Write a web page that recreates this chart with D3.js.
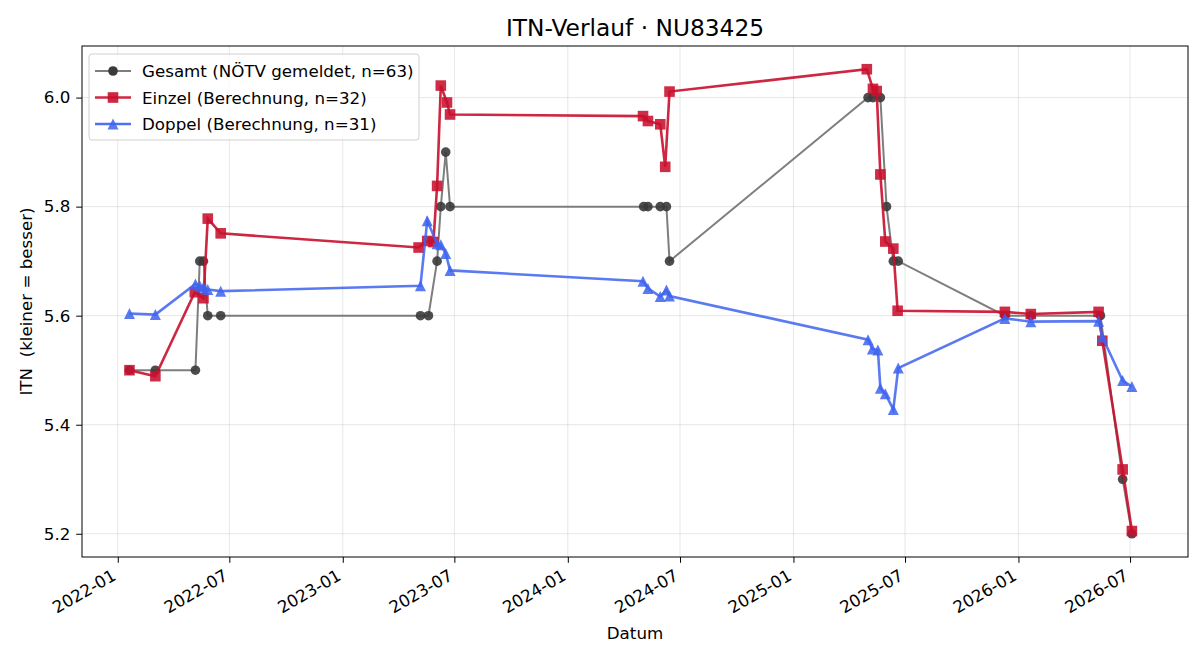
<!DOCTYPE html>
<html><head><meta charset="utf-8">
<script src="https://cdn.jsdelivr.net/npm/d3@7"></script>
<style>
html,body{margin:0;padding:0;background:#fff;}
svg{display:block;font-family:"DejaVu Sans",sans-serif;}
</style></head>
<body>
<svg id="chart" width="1200" height="660"></svg>
<script>
// ---------- data ----------
const gesamtDates = ["2022-01-20","2022-03-03","2022-05-07","2022-05-14","2022-05-20","2022-05-27","2022-06-17",
  "2023-05-07","2023-05-20","2023-06-03","2023-06-09","2023-06-17","2023-06-24",
  "2024-05-03","2024-05-10","2024-05-30","2024-06-09","2024-06-14",
  "2025-05-02","2025-05-10","2025-05-22","2025-06-01","2025-06-12","2025-06-20",
  "2025-12-10","2026-01-21","2026-05-14","2026-06-19","2026-07-04"];
const gesamtValues = [5.5,5.5,5.5,5.7,5.7,5.6,5.6,
  5.6,5.6,5.7,5.8,5.9,5.8,
  5.8,5.8,5.8,5.8,5.7,
  6.0,6.0,6.0,5.8,5.7,5.7,
  5.6,5.6,5.6,5.3,5.2];

const einzelDates = ["2022-01-20","2022-03-03","2022-05-06","2022-05-20","2022-05-27","2022-06-17",
  "2023-05-04","2023-05-18","2023-05-28","2023-06-03","2023-06-09","2023-06-19","2023-06-24",
  "2024-05-02","2024-05-10","2024-05-30","2024-06-07","2024-06-14",
  "2025-04-30","2025-05-10","2025-05-16","2025-05-22","2025-05-30","2025-06-12","2025-06-19",
  "2025-12-10","2026-01-21","2026-05-11","2026-05-17","2026-06-19","2026-07-04"];
const einzelValues = [5.5,5.489,5.643,5.632,5.778,5.751,
  5.725,5.737,5.735,5.838,6.022,5.991,5.969,
  5.966,5.957,5.951,5.873,6.011,
  6.052,6.016,6.012,5.859,5.736,5.723,5.609,
  5.607,5.603,5.607,5.554,5.318,5.205];

const doppelDates = ["2022-01-20","2022-03-03","2022-05-07","2022-05-14","2022-05-20","2022-05-27","2022-06-17",
  "2023-05-07","2023-05-18","2023-06-03","2023-06-09","2023-06-17","2023-06-24",
  "2024-05-02","2024-05-10","2024-05-30","2024-06-09","2024-06-14",
  "2025-05-02","2025-05-09","2025-05-18","2025-05-22","2025-05-30","2025-06-12","2025-06-20",
  "2025-12-10","2026-01-21","2026-05-11","2026-05-17","2026-06-19","2026-07-04"];
const doppelValues = [5.604,5.602,5.658,5.655,5.652,5.648,5.645,
  5.655,5.774,5.732,5.730,5.714,5.683,
  5.663,5.650,5.635,5.647,5.636,
  5.556,5.539,5.537,5.467,5.457,5.428,5.504,
  5.595,5.589,5.590,5.561,5.481,5.470];

const xTickLabels = ["2022-01","2022-07","2023-01","2023-07","2024-01","2024-07","2025-01","2025-07","2026-01","2026-07"];
const yTickValues = [5.2,5.4,5.6,5.8,6.0];

const titleText = "ITN-Verlauf · NU83425";
const xLabel = "Datum";
const yLabel = "ITN  (kleiner = besser)";
const legendLabels = ["Gesamt (NÖTV gemeldet, n=63)","Einzel (Berechnung, n=32)","Doppel (Berechnung, n=31)"];

// ---------- layout ----------
const svg = d3.select("#chart");
const L = 82, T = 46, R = 1188, B = 557;
const W = R - L, H = B - T;
const parse = d3.utcParse("%Y-%m-%d");
const parseM = d3.utcParse("%Y-%m");
const base = Date.UTC(2022,0,1);
const day = 86400000;

const x = d3.scaleUtc()
  .domain([new Date(base - 58*day), new Date(base + 1736*day)])
  .range([0, W]);
const allVals = gesamtValues.concat(einzelValues, doppelValues);
const yMin = d3.min(allVals), yMax = d3.max(allVals);
const pad = (yMax - yMin) * 0.05;
const y = d3.scaleLinear().domain([yMin - pad, yMax + pad]).range([H, 0]);

const g = svg.append("g").attr("transform", `translate(${L},${T})`);

// grid
const xTicks = xTickLabels.map(parseM);
g.append("g").selectAll("line").data(xTicks).join("line")
  .attr("x1", d => x(d)).attr("x2", d => x(d)).attr("y1", 0).attr("y2", H)
  .attr("stroke", "#b0b0b0").attr("stroke-opacity", 0.3).attr("stroke-width", 1);
g.append("g").selectAll("line").data(yTickValues).join("line")
  .attr("y1", d => y(d)).attr("y2", d => y(d)).attr("x1", 0).attr("x2", W)
  .attr("stroke", "#b0b0b0").attr("stroke-opacity", 0.3).attr("stroke-width", 1);

// axes
const fs = 16.7;
const xAxis = d3.axisBottom(x).tickValues(xTicks).tickFormat(d3.utcFormat("%Y-%m")).tickSize(5.8).tickPadding(5.8);
const xg = g.append("g").attr("transform", `translate(0,${H})`).call(xAxis);
xg.select(".domain").remove();
xg.selectAll(".tick line").attr("stroke", "#000").attr("stroke-width", 1);
xg.selectAll(".tick text")
  .attr("font-size", fs).attr("font-family", "DejaVu Sans").attr("fill", "#000")
  .attr("text-anchor", "end").attr("dy", null).attr("y", null)
  .attr("transform", "translate(-1,22) rotate(-30)");

const yAxis = d3.axisLeft(y).tickValues(yTickValues).tickFormat(d3.format(".1f")).tickSize(5.8).tickPadding(5.8);
const yg = g.append("g").call(yAxis);
yg.select(".domain").remove();
yg.selectAll(".tick line").attr("stroke", "#000").attr("stroke-width", 1);
yg.selectAll(".tick text").attr("font-size", fs).attr("font-family", "DejaVu Sans").attr("fill", "#000");

// frame
g.append("rect").attr("x", 0).attr("y", 0).attr("width", W).attr("height", H)
  .attr("fill", "none").attr("stroke", "#000").attr("stroke-width", 1);

// series
const mk = (dates, vals) => dates.map((d, i) => ({d: parse(d), v: vals[i]}));
const gesamt = mk(gesamtDates, gesamtValues);
const einzel = mk(einzelDates, einzelValues);
const doppel = mk(doppelDates, doppelValues);
const line = d3.line().x(p => x(p.d)).y(p => y(p.v));

const sGray = "#707070", mGray = "#3a3a3a";
const cRed = "#c8102e", cBlue = "#3d63f0";
const cr = 4.8, sq = 10.6, ts = 5.5;

// gesamt
g.append("path").datum(gesamt).attr("d", line).attr("fill", "none")
  .attr("stroke", sGray).attr("stroke-opacity", 0.9).attr("stroke-width", 2);
g.append("g").selectAll("circle").data(gesamt).join("circle")
  .attr("cx", p => x(p.d)).attr("cy", p => y(p.v)).attr("r", cr)
  .attr("fill", mGray).attr("fill-opacity", 0.9);

// einzel
g.append("path").datum(einzel).attr("d", line).attr("fill", "none")
  .attr("stroke", cRed).attr("stroke-opacity", 0.9).attr("stroke-width", 2.6);
g.append("g").selectAll("rect").data(einzel).join("rect")
  .attr("x", p => x(p.d) - sq/2).attr("y", p => y(p.v) - sq/2).attr("width", sq).attr("height", sq)
  .attr("fill", cRed).attr("fill-opacity", 0.88);

// doppel
const tri = d3.symbol().type({draw(ctx, size){ const s = ts; ctx.moveTo(0,-s); ctx.lineTo(-s,s); ctx.lineTo(s,s); ctx.closePath(); }});
g.append("path").datum(doppel).attr("d", line).attr("fill", "none")
  .attr("stroke", cBlue).attr("stroke-opacity", 0.85).attr("stroke-width", 2.6);
g.append("g").selectAll("path").data(doppel).join("path")
  .attr("d", tri()).attr("transform", p => `translate(${x(p.d)},${y(p.v)})`)
  .attr("fill", cBlue).attr("fill-opacity", 0.85);

// title & labels
svg.append("text").attr("x", L + W/2).attr("y", 36).attr("text-anchor", "middle")
  .attr("font-size", 23.3).attr("fill", "#000").text(titleText);
svg.append("text").attr("x", L + W/2).attr("y", 639).attr("text-anchor", "middle")
  .attr("font-size", fs).attr("fill", "#000").text(xLabel);
svg.append("text").attr("transform", `translate(26,${T + H/2}) rotate(-90)`).attr("text-anchor", "middle")
  .attr("dominant-baseline", "central").style("white-space", "pre")
  .attr("font-size", fs).attr("fill", "#000").text(yLabel);

// legend
const lg = svg.append("g").attr("transform", "translate(89,54)");
lg.append("rect").attr("x", 0).attr("y", 0).attr("width", 330).attr("height", 86).attr("rx", 3)
  .attr("fill", "#fff").attr("fill-opacity", 0.8).attr("stroke", "#d0d0d0").attr("stroke-width", 1);
const items = [
  {label: legendLabels[0], color: sGray, mcolor: mGray, w: 2, m: "circle"},
  {label: legendLabels[1], color: cRed, mcolor: cRed, w: 2.6, m: "square"},
  {label: legendLabels[2], color: cBlue, mcolor: cBlue, w: 2.6, m: "tri"}
];
items.forEach((it, i) => {
  const cy = 17 + i * 26.5;
  const row = lg.append("g").attr("transform", `translate(0,${cy})`);
  row.append("line").attr("x1", 6).attr("x2", 42).attr("y1", 0).attr("y2", 0)
    .attr("stroke", it.color).attr("stroke-width", it.w).attr("stroke-opacity", 0.9);
  if (it.m === "circle") row.append("circle").attr("cx", 24).attr("cy", 0).attr("r", cr).attr("fill", it.mcolor);
  else if (it.m === "square") row.append("rect").attr("x", 24 - sq/2).attr("y", -sq/2).attr("width", sq).attr("height", sq).attr("fill", it.mcolor).attr("fill-opacity", 0.9);
  else row.append("path").attr("d", tri()).attr("transform", "translate(24,0)").attr("fill", it.mcolor).attr("fill-opacity", 0.85);
  row.append("text").attr("x", 53).attr("y", 6).attr("font-size", fs).attr("fill", "#000").text(it.label);
});
</script>
</body></html>
